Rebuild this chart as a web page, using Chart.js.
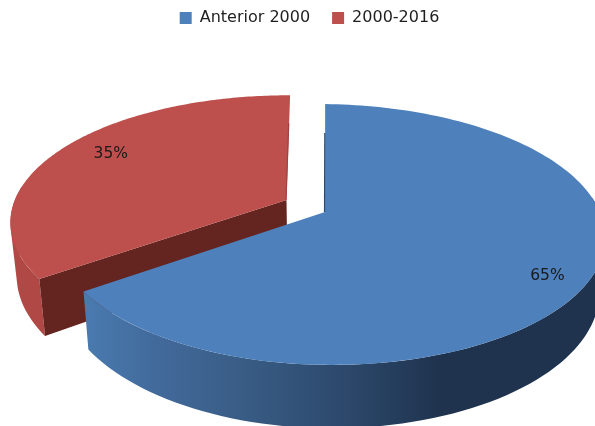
<!DOCTYPE html>
<html>
<head>
<meta charset="utf-8">
<script src="https://cdn.jsdelivr.net/npm/chart.js@4"></script>
<style>
html, body { margin: 0; padding: 0; background: #fff; overflow: hidden; }
#wrap { width: 595px; height: 426px; }
canvas { filter: blur(0.4px); }
</style>
</head>
<body>
<div id="wrap"><canvas id="pie" width="595" height="426"></canvas></div>
<script>
const categories = ['Anterior 2000', '2000-2016'];
const values = [65, 35];
const topColors = ['#4e80bb', '#bd4f4c'];

// camera of the tilted pie, fitted by eye against the reference
const cam = { cx: 325, cy: 212, fLeft: 1555, fRight: 1595, g: 734, d: 5.8, depth: 304, shrink: 0.98 };
// per slice: pull out in the pie plane, radius factor, lean of the cut edge, small turn in radians
const sliceStyle = [
  { u0: 0, v0: 0, scaleU: 1, scaleV: 1, lean: 6, turn: 0 },
  { u0: -0.146, v0: -0.0964, scaleU: 1.03, scaleV: 1, lean: 4, turn: -0.0175 }
];
const labelNudges = [[-15, 5], [26, 2]];

function project(s, a, t, low) {
  // a = canvas angle from chart.js, -PI/2 is twelve o'clock
  const u = Math.cos(a + s.turn) * t * s.scaleU;
  const v = Math.sin(a + s.turn) * t * s.scaleV;
  const pu = u + s.u0;
  const pv = v + s.v0;
  const w = cam.d - pv;
  let x = (pu < 0 ? cam.fLeft : cam.fRight) * pu / w + s.lean * v;
  let y = cam.g * pv / w;
  if (low) {
    x *= cam.shrink;
    y += cam.depth / w;
  }
  return { x: cam.cx + x, y: cam.cy + y };
}

function fillPoly(ctx, pts, color) {
  ctx.beginPath();
  pts.forEach((p, i) => i ? ctx.lineTo(p.x, p.y) : ctx.moveTo(p.x, p.y));
  ctx.closePath();
  ctx.fillStyle = color;
  ctx.fill();
}

function sideGradient(ctx, i) {
  const g = ctx.createLinearGradient(82, 0, 440, 0);
  if (i === 0) {
    g.addColorStop(0, '#4a7bb0');
    g.addColorStop(0.22, '#41699a');
    g.addColorStop(0.47, '#385b83');
    g.addColorStop(0.7, '#2e4b6f');
    g.addColorStop(0.88, '#253d5c');
    g.addColorStop(1, '#1f334e');
  } else {
    g.addColorStop(0, '#b04946');
    g.addColorStop(1, '#a8433f');
  }
  return g;
}

function area(q) {
  let sum = 0;
  q.forEach((p, i) => {
    const r = q[(i + 1) % q.length];
    sum += p.x * r.y - r.x * p.y;
  });
  return sum;
}

// rim of a slice as one path of quads, all wound the same way, so no seams and no notch
function drawRim(ctx, s, a, color) {
  const n = 120;
  ctx.beginPath();
  for (let k = 0; k < n; k++) {
    const a1 = a.startAngle + (a.endAngle - a.startAngle) * k / n;
    const a2 = a.startAngle + (a.endAngle - a.startAngle) * (k + 1) / n;
    if (Math.sin(a1 + s.turn) < -0.1 && Math.sin(a2 + s.turn) < -0.1) continue;
    const q = [project(s, a1, 1, false), project(s, a2, 1, false), project(s, a2, 1, true), project(s, a1, 1, true)];
    if (area(q) < 0) q.reverse();
    q.forEach((p, i) => i ? ctx.lineTo(p.x, p.y) : ctx.moveTo(p.x, p.y));
    ctx.closePath();
  }
  ctx.fillStyle = color;
  ctx.fill();
}

function topFace(ctx, s, a, color) {
  const pts = [project(s, a.startAngle, 0, false)];
  const n = 160;
  for (let k = 0; k <= n; k++) {
    pts.push(project(s, a.startAngle + (a.endAngle - a.startAngle) * k / n, 1, false));
  }
  fillPoly(ctx, pts, color);
}

function edgeLine(ctx, s, angle, color) {
  const apex = project(s, angle, 0, false);
  const end = project(s, angle, 0.7, false);
  ctx.beginPath();
  ctx.moveTo(apex.x - 0.5, apex.y);
  ctx.lineTo(end.x - 0.5, end.y);
  ctx.strokeStyle = color;
  ctx.lineWidth = 1.2;
  ctx.stroke();
}

const pie3d = {
  id: 'pie3d',
  afterLayout(chart) {
    chart.legend.top = -12;
  },
  beforeDatasetDraw(chart) {
    const ctx = chart.ctx;
    const arcs = chart.getDatasetMeta(0).data;
    ctx.save();
    // red block first, blue sits in front of it
    [1, 0].forEach(i => {
      const s = sliceStyle[i];
      const a = arcs[i];
      drawRim(ctx, s, a, sideGradient(ctx, i));
      // only the cut wall of the red slice faces the camera
      if (i === 1) {
        fillPoly(ctx, [
          project(s, a.startAngle, 0, false),
          project(s, a.startAngle, 1, false),
          project(s, a.startAngle, 1, true),
          project(s, a.startAngle, 0, true)
        ], '#64241f');
      }
      topFace(ctx, s, a, topColors[i]);
      edgeLine(ctx, s, i === 0 ? a.startAngle : a.endAngle, i === 0 ? '#2b4a70' : '#a04340');
    });
    ctx.restore();
    return false;
  },
  afterDatasetsDraw(chart) {
    const ctx = chart.ctx;
    const arcs = chart.getDatasetMeta(0).data;
    const total = values.reduce((p, c) => p + c, 0);
    ctx.save();
    ctx.font = '15.5px "DejaVu Sans"';
    ctx.fillStyle = '#1a1a1a';
    ctx.textAlign = 'center';
    ctx.textBaseline = 'middle';
    arcs.forEach((a, i) => {
      const p = project(sliceStyle[i], (a.startAngle + a.endAngle) / 2, 0.9, false);
      ctx.fillText(Math.round(values[i] / total * 100) + '%', p.x + labelNudges[i][0], p.y + labelNudges[i][1]);
    });
    ctx.restore();
  }
};

new Chart(document.getElementById('pie'), {
  type: 'pie',
  data: {
    labels: categories,
    datasets: [{ data: values, backgroundColor: topColors, borderWidth: 0 }]
  },
  options: {
    responsive: false,
    animation: false,
    rotation: 1.5,
    layout: { padding: { left: 24 } },
    plugins: {
      tooltip: { enabled: false },
      legend: {
        position: 'top',
        labels: {
          boxWidth: 12,
          boxHeight: 12,
          padding: 22,
          color: '#1f1f1f',
          font: { family: '"DejaVu Sans"', size: 16 }
        }
      }
    }
  },
  plugins: [pie3d]
});
</script>
</body>
</html>
